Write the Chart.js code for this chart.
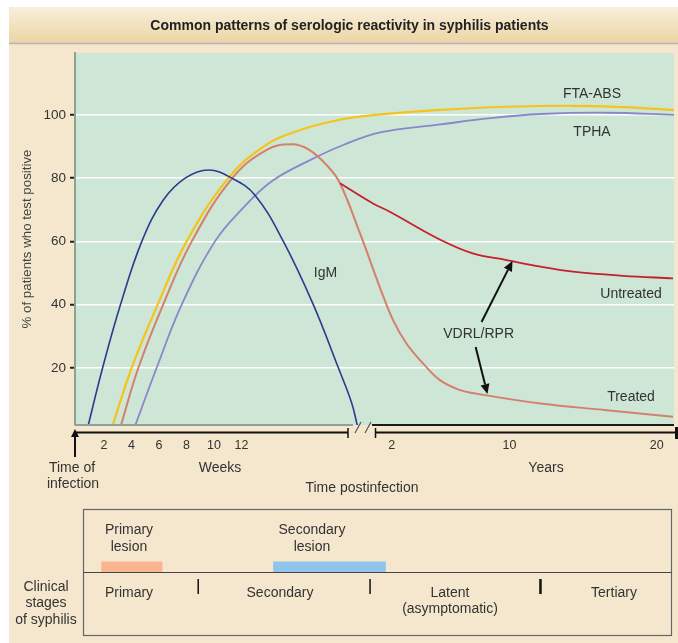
<!DOCTYPE html>
<html>
<head>
<meta charset="utf-8">
<title>Common patterns of serologic reactivity in syphilis patients</title>
<script src="https://cdn.jsdelivr.net/npm/chart.js@4.4.1/dist/chart.umd.min.js"></script>
<style>
  html, body { margin: 0; padding: 0; background: #fff; }
  #wrap { width: 678px; height: 643px; }
</style>
</head>
<body>
<div id="wrap"><canvas id="chart" width="678" height="643"></canvas></div>
<script>
// time is kept in weeks; yr() turns years into weeks
const yr = n => n * 52;

// IgM
const igmWeeks = [0.75, 1.9, 3.2, 4.75, 6.3, 7.9, 9.6, 11.3, 12.98, 15.04, 17.22, 19.04, 20, 28];
const igmPct   = [0, 20, 40, 60, 73, 80, 82.6, 80, 74.6, 60, 40, 20, 9, 1];

// FTA-ABS
const ftaWeeks = [2.5, 4.01, 5.9, 8.01, 11.04, 13.6, 15.9, 19.04, 49.6, yr(5.3), yr(9.8), yr(14.3), yr(17.7), yr(21.2)];
const ftaPct   = [0, 20, 40, 60, 80, 90, 94.7, 98.4, 100, 101.6, 102.6, 102.9, 102.5, 101.5];

// TPHA
const tphaWeeks = [4.12, 5.83, 7.65, 10.07, 12.1, 14.2, 16.98, 19.4, yr(1.23), yr(5.3), yr(8.7), yr(12.1), yr(16.6), yr(21.2)];
const tphaPct   = [0, 20, 40, 60, 70.5, 79, 85.7, 90.5, 94.5, 97, 99, 100.3, 100.7, 100];

// VDRL/RPR, treated
const treatedWeeks = [3.11, 4.5, 6.3, 8.38, 11.33, 13.8, 15.65, 16.9, 18.3, 19.16, 30.7, yr(1.23), yr(2.1), yr(3), yr(4.2), yr(5.3), yr(6.6), yr(7.5), yr(12.1), yr(16.6), yr(21.1)];
const treatedPct   = [0, 20, 40, 60, 80, 88.9, 90.7, 89, 83.6, 78.4, 62.5, 45, 35, 27.7, 21, 16, 13, 12, 8.7, 6.6, 4.5];

// VDRL/RPR, untreated (branches off the treated curve)
const untreatedWeeks = [19.16, 47, yr(1.9), yr(5.3), yr(7.5), yr(9.8), yr(12.1), yr(14.3), yr(17.7), yr(21.1)];
const untreatedPct   = [78.4, 72, 69.3, 60.5, 56.2, 54.1, 52, 50.4, 49.1, 48.3];

const yTicks = [20, 40, 60, 80, 100];
const weekTicks = [2, 4, 6, 8, 10, 12];
const yearTicks = [2, 10, 20];

// clinical stages panel
const lesionNames = [["Primary", "lesion"], ["Secondary", "lesion"]];
const lesionStart = [1.8, 14.3];
const lesionEnd = [6.25, yr(1.6)];
const stageNames = [["Primary"], ["Secondary"], ["Latent", "(asymptomatic)"], ["Tertiary"]];
const stageBreaks = [8.85, 43.3, yr(12.1)];

// broken time axis: weeks 0-20 linear, squeezed up to 1 year, then years linear
function toPos(w) {
  if (w <= 20) return w;
  if (w <= 52) return 20 + (w - 20) / 32 * 1.85;
  return 20.78 + 1.071 * (w / 52);
}
const pts = (t, v) => t.map((w, i) => ({ x: toPos(w), y: v[i] }));

const FONT = "'Liberation Sans', Arial, Helvetica, sans-serif";
Chart.defaults.font.family = FONT;

function seg(ctx, x1, y1, x2, y2, color, w) {
  ctx.strokeStyle = color;
  ctx.lineWidth = w;
  ctx.beginPath();
  ctx.moveTo(x1, y1);
  ctx.lineTo(x2, y2);
  ctx.stroke();
}

function arrow(ctx, x1, y1, x2, y2, len, half) {
  const ang = Math.atan2(y2 - y1, x2 - x1);
  const bx = x2 - len * Math.cos(ang), by = y2 - len * Math.sin(ang);
  seg(ctx, x1, y1, bx, by, '#111', 2);
  ctx.fillStyle = '#111';
  ctx.beginPath();
  ctx.moveTo(x2, y2);
  ctx.lineTo(bx + half * Math.sin(ang), by - half * Math.cos(ang));
  ctx.lineTo(bx - half * Math.sin(ang), by + half * Math.cos(ang));
  ctx.closePath();
  ctx.fill();
}

function txt(ctx, s, x, y, size, align, color, bold, maxW) {
  ctx.font = (bold ? 'bold ' : '') + size + 'px ' + FONT;
  ctx.textAlign = align || 'center';
  ctx.textBaseline = 'alphabetic';
  ctx.fillStyle = color || '#333';
  if (maxW) ctx.fillText(s, x, y, maxW);
  else ctx.fillText(s, x, y);
}

// labels and arrows inside the plot, placed in data space
const notes = [
  { text: 'FTA-ABS', t: yr(15.6), v: 105.3 },
  { text: 'TPHA', t: yr(15.6), v: 93.3 },
  { text: 'IgM', t: 18.1, v: 48.8 },
  { text: 'Untreated', t: yr(18.25), v: 42.1 },
  { text: 'Treated', t: yr(18.25), v: 9.5 },
  { text: 'VDRL/RPR', t: yr(7.9), v: 29.4 }
];
const pointers = [
  { from: [yr(8.1), 34.5], to: [yr(10.2), 53.8] },
  { from: [yr(7.7), 26.6], to: [yr(8.5), 11.7] }
];

const decor = {
  id: 'decor',
  beforeDraw(chart) {
    const { ctx, chartArea: a } = chart;
    ctx.save();
    ctx.fillStyle = '#fff';
    ctx.fillRect(0, 0, chart.width, chart.height);
    ctx.fillStyle = '#f4e7cd';
    ctx.fillRect(9, 7, chart.width - 9, chart.height - 7);

    // title bar
    const g = ctx.createLinearGradient(0, 7, 0, 43);
    g.addColorStop(0, '#f8efdd');
    g.addColorStop(1, '#ebd5a3');
    ctx.fillStyle = g;
    ctx.beginPath();
    ctx.roundRect(9, 7, chart.width - 9, 36, [5, 0, 0, 0]);
    ctx.fill();
    seg(ctx, 9, 43.5, chart.width, 43.5, '#b8b1bf', 1.5);
    txt(ctx, 'Common patterns of serologic reactivity in syphilis patients', 349.5, 29.5, 14, 'center', '#222', true, 408);

    // plot background
    ctx.fillStyle = '#cde6d5';
    ctx.fillRect(a.left, a.top, a.right - a.left, a.bottom - a.top);
    ctx.restore();
  },
  afterDraw(chart) {
    const { ctx, chartArea: a, scales: { x, y } } = chart;
    const px = w => x.getPixelForValue(toPos(w));
    const py = v => y.getPixelForValue(v);
    ctx.save();

    // lower plot edge
    seg(ctx, a.left, a.bottom, 353, a.bottom, '#8da294', 2);
    seg(ctx, 372, a.bottom, a.right, a.bottom, '#1a1a1a', 2);

    // time axis (weeks | break | years)
    seg(ctx, a.left, 432.5, 348, 432.5, '#111', 2);
    seg(ctx, 348, 428, 348, 438, '#111', 1.5);
    seg(ctx, 375, 432.5, 677, 432.5, '#111', 2);
    seg(ctx, 375.5, 428, 375.5, 438, '#111', 1.5);
    seg(ctx, 676.5, 427, 676.5, 439, '#111', 3);
    seg(ctx, 355, 433, 361, 422, '#555', 1.2);
    seg(ctx, 365, 433, 371, 422, '#555', 1.2);
    arrow(ctx, 75, 457, 75, 429, 8, 4);

    weekTicks.forEach(w => txt(ctx, String(w), px(w), 449, 12.5));
    yearTicks.forEach(n => txt(ctx, String(n), px(yr(n)), 449, 12.5));
    txt(ctx, 'Weeks', 220, 471.5, 14);
    txt(ctx, 'Years', 546, 471.5, 14);
    txt(ctx, 'Time postinfection', 362, 491.5, 14);
    txt(ctx, 'Time of', 72, 471.5, 14);
    txt(ctx, 'infection', 73, 487.5, 14);

    // in-plot annotations
    notes.forEach(n => txt(ctx, n.text, px(n.t), py(n.v), 14));
    pointers.forEach(p => arrow(ctx, px(p.from[0]), py(p.from[1]), px(p.to[0]), py(p.to[1]), 10, 4.5));

    // clinical stages panel
    ctx.strokeStyle = '#666';
    ctx.lineWidth = 1.2;
    ctx.strokeRect(83.5, 509.5, 588, 126);
    seg(ctx, 83.5, 572.5, 671.5, 572.5, '#444', 1.2);
    const lesionColors = ['#f8b590', '#8fc4ec'];
    const lesionLabelX = [129, 312];
    lesionNames.forEach((lines, i) => {
      ctx.fillStyle = lesionColors[i];
      ctx.fillRect(px(lesionStart[i]), 561.5, px(lesionEnd[i]) - px(lesionStart[i]), 10.5);
      lines.forEach((s, j) => txt(ctx, s, lesionLabelX[i], 534 + j * 16.5, 14));
    });
    stageBreaks.forEach((w, i) => seg(ctx, px(w), 579, px(w), 594, '#111', i === 2 ? 2.5 : 1.5));
    const stageX = [129, 280, 450, 614];
    stageNames.forEach((lines, i) => lines.forEach((s, j) => txt(ctx, s, stageX[i], 597 + j * 16, 14)));
    ['Clinical', 'stages', 'of syphilis'].forEach((s, j) => txt(ctx, s, 46, 590.5 + j * 16.5, 14));

    ctx.restore();
  }
};

const line = (label, data, color, width) => ({
  label, data, borderColor: color, borderWidth: width,
  pointRadius: 0, fill: false, tension: 0.4
});

new Chart(document.getElementById('chart'), {
  type: 'line',
  data: {
    datasets: [
      line('IgM', pts(igmWeeks, igmPct), '#2e3a8e', 1.6),
      line('FTA-ABS', pts(ftaWeeks, ftaPct), '#f6c31a', 2.2),
      line('VDRL/RPR untreated', pts(untreatedWeeks, untreatedPct), '#c6202d', 1.8),
      line('VDRL/RPR treated', pts(treatedWeeks, treatedPct), '#d4806c', 2),
      line('TPHA', pts(tphaWeeks, tphaPct), '#8a86cb', 1.8)
    ]
  },
  options: {
    responsive: false,
    animation: false,
    devicePixelRatio: 1,
    layout: { padding: { left: 0, top: 53, right: 4, bottom: 218 } },
    scales: {
      x: { type: 'linear', display: false, min: -0.11, max: 43.45 },
      y: {
        min: 1.9,
        max: 119.6,
        afterFit: s => { s.width = 75; },
        afterBuildTicks: s => { s.ticks = yTicks.map(v => ({ value: v })); },
        ticks: { color: '#333', font: { size: 13.5 }, padding: 4 },
        grid: { color: '#ffffff', lineWidth: 1.5, tickColor: '#222', tickLength: 5, tickWidth: 2 },
        border: { color: '#8da294', width: 2 },
        title: {
          display: true,
          text: '% of patients who test positive',
          color: '#444',
          font: { size: 13.3, lineHeight: 1.2 },
          padding: { top: 19.5, bottom: 0 }
        }
      }
    },
    plugins: { legend: { display: false }, tooltip: { enabled: false } }
  },
  plugins: [decor]
});
</script>
</body>
</html>
